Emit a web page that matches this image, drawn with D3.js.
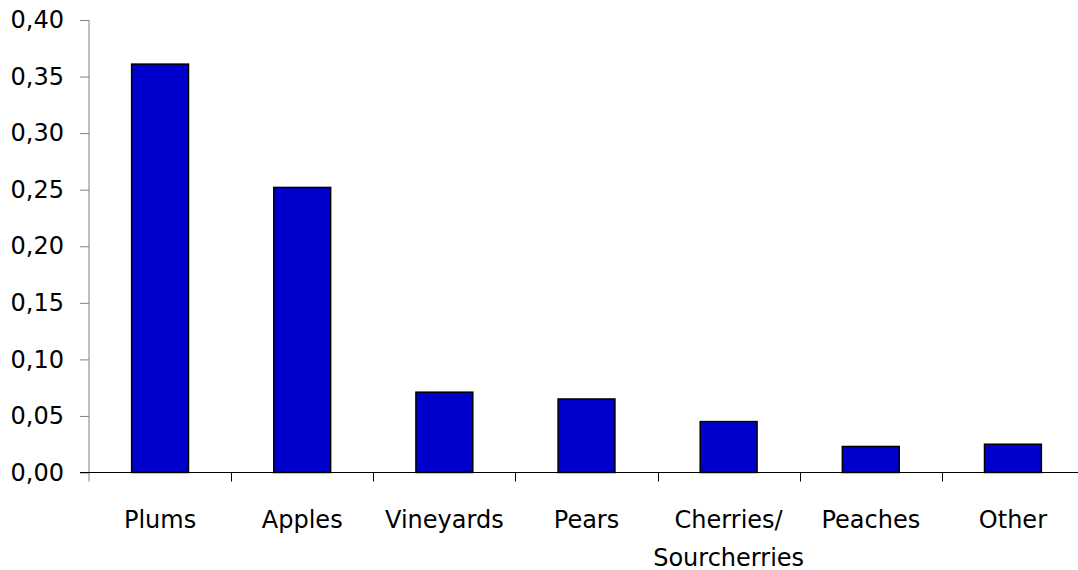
<!DOCTYPE html>
<html>
<head>
<meta charset="utf-8">
<script src="https://cdn.jsdelivr.net/npm/d3@7"></script>
<style>
  body { margin: 0; background: #fff; }
  text { font-family: "DejaVu Sans", sans-serif; fill: #000; }
</style>
</head>
<body>
<svg width="1078" height="570"></svg>
<script>
// values
var categories = ["Plums", "Apples", "Vineyards", "Pears", "Cherries/\nSourcherries", "Peaches", "Other"];
var values = [0.361, 0.252, 0.071, 0.065, 0.045, 0.023, 0.025];
var yTicks = [0, 0.05, 0.10, 0.15, 0.20, 0.25, 0.30, 0.35, 0.40];

var data = categories.map(function(c, i) { return {name: c, value: values[i]}; });

var svg = d3.select("svg"),
    plotLeft = 89, plotRight = 1084,
    plotTop = 20, plotBottom = 472.5;

var x = d3.scaleBand()
    .domain(categories)
    .range([plotLeft, plotRight])
    .paddingInner(0.6)
    .paddingOuter(0.3);

var y = d3.scaleLinear()
    .domain([0, 0.4])
    .range([plotBottom, plotTop]);

var fmt = function(d) { return d3.format(".2f")(d).replace(".", ","); };

// y axis
var yAxis = svg.append("g")
    .attr("transform", "translate(" + plotLeft + ",0)")
    .call(d3.axisLeft(y).tickValues(yTicks).tickFormat(fmt).tickSize(9).tickPadding(16));
yAxis.select(".domain").attr("stroke", "#808080").attr("d", "M0," + y(0.4) + "V" + (plotBottom + 9));
yAxis.selectAll(".tick line").attr("stroke", "#808080");
yAxis.selectAll(".tick text")
    .style("font-size", "24px")
    .style("font-family", "DejaVu Sans, sans-serif");

// bars
svg.selectAll(".bar")
    .data(data)
  .enter().append("rect")
    .attr("class", "bar")
    .attr("x", function(d) { return x(d.name); })
    .attr("width", x.bandwidth())
    .attr("y", function(d) { return y(d.value); })
    .attr("height", function(d) { return y(0) - y(d.value); })
    .attr("fill", "#0000CC")
    .attr("stroke", "#000")
    .attr("stroke-width", 1.5);

// x axis line + category boundary ticks
svg.append("line")
    .attr("x1", plotLeft - 9).attr("x2", 1078)
    .attr("y1", plotBottom).attr("y2", plotBottom)
    .attr("stroke", "#000");

var step = x.step();
var bounds = d3.range(1, categories.length).map(function(i) { return plotLeft + i * step; });
svg.selectAll(".xtick")
    .data(bounds)
  .enter().append("line")
    .attr("class", "xtick")
    .attr("x1", function(d) { return Math.round(d) + 0.5; })
    .attr("x2", function(d) { return Math.round(d) + 0.5; })
    .attr("y1", plotBottom).attr("y2", plotBottom + 9)
    .attr("stroke", "#000");

// category labels (split on newline)
var labels = svg.selectAll(".xlabel")
    .data(data)
  .enter().append("text")
    .attr("class", "xlabel")
    .attr("text-anchor", "middle")
    .style("font-size", "24px")
    .attr("transform", function(d) { return "translate(" + (x(d.name) + x.bandwidth() / 2) + ",528)"; });

labels.selectAll("tspan")
    .data(function(d) { return d.name.split("\n"); })
  .enter().append("tspan")
    .attr("x", 0)
    .attr("dy", function(d, i) { return i ? 38 : 0; })
    .text(function(d) { return d; });
</script>
</body>
</html>
